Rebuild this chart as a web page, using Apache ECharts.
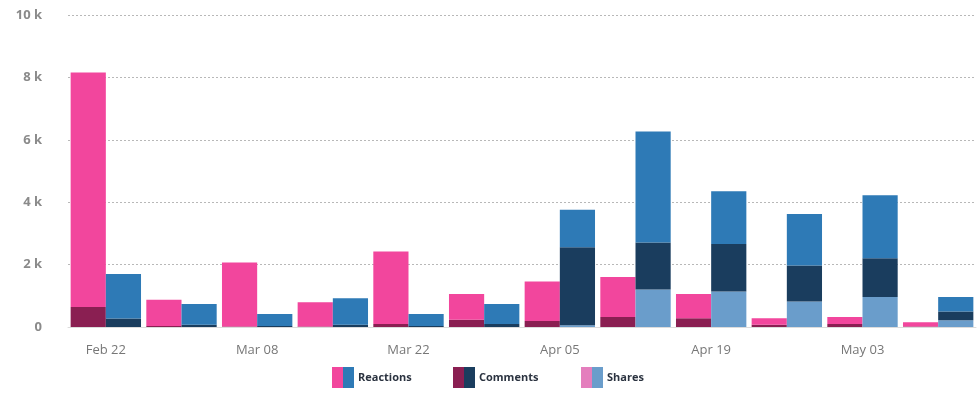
<!DOCTYPE html>
<html>
<head>
<meta charset="utf-8">
<script src="https://cdn.jsdelivr.net/npm/echarts@6/dist/echarts.min.js"></script>
<style>
  html, body { margin: 0; padding: 0; background: #fff; }
  #chart { width: 979px; height: 412px; }
</style>
</head>
<body>
<div id="chart"></div>
<script>
// weeks (label shown every other week)
const weeks = ["Feb 22", "Mar 01", "Mar 08", "Mar 15", "Mar 22", "Mar 29",
  "Apr 05", "Apr 12", "Apr 19", "Apr 26", "May 03", "May 10"];

// pink page
const pinkReactions = [7520, 845, 2050, 770, 2320, 830, 1270, 1280, 780, 210, 220, 130];
const pinkComments  = [640, 30, 20, 20, 100, 230, 190, 320, 280, 70, 100, 20];
const pinkShares    = [0, 0, 0, 0, 0, 0, 0, 0, 0, 0, 0, 0];

// blue page
const blueReactions = [1430, 670, 390, 850, 390, 640, 1200, 3560, 1690, 1650, 2020, 460];
const blueComments  = [270, 70, 30, 70, 30, 100, 2500, 1510, 1520, 1150, 1240, 280];
const blueShares    = [0, 0, 0, 0, 0, 0, 60, 1200, 1140, 820, 960, 220];

const metricNames = ["Reactions", "Comments", "Shares"];
const pinkColors = ["#f2469d", "#8a1f52", "#e47ebd"];
const blueColors = ["#2e7ab6", "#1a3d5e", "#6a9dcb"];
const legendX = [327, 448, 576];

var chartDom = document.getElementById("chart");
const chart = echarts.init(chartDom);

const mkSeries = (name, data, color, stack) => ({
  name: name,
  type: "bar",
  stack: stack,
  data: data,
  barGap: "0%",
  barCategoryGap: "7%",
  itemStyle: { color: color },
  emphasis: { disabled: true },
});

// stacks drawn bottom-up: shares, comments, reactions
const series = [
  mkSeries("Shares", pinkShares, pinkColors[2], "pink"),
  mkSeries("Comments", pinkComments, pinkColors[1], "pink"),
  mkSeries("Reactions", pinkReactions, pinkColors[0], "pink"),
  mkSeries("Shares", blueShares, blueColors[2], "blue"),
  mkSeries("Comments", blueComments, blueColors[1], "blue"),
  mkSeries("Reactions", blueReactions, blueColors[0], "blue"),
];

// two-tone legend swatch: a pink half-legend (no text) next to a blue one
const legends = [];
metricNames.forEach((n, i) => {
  legends.push({
    left: legendX[i], top: 362,
    icon: "rect", itemWidth: 11, itemHeight: 21,
    selectedMode: false,
    formatter: () => "",
    data: [{ name: n, itemStyle: { color: pinkColors[i] } }],
  });
  legends.push({
    left: legendX[i] + 11, top: 362,
    icon: "rect", itemWidth: 11, itemHeight: 21,
    selectedMode: false,
    textStyle: { fontFamily: "Open Sans", fontWeight: "bold", fontSize: 11, color: "#2b3340", padding: [0, 0, 0, -1] },
    data: [{ name: n, itemStyle: { color: blueColors[i] } }],
  });
});

const option = {
  animation: false,
  legend: legends,
  grid: { left: 68, right: 3, top: 15, bottom: 85 },
  xAxis: {
    type: "category",
    data: weeks,
    axisLine: { lineStyle: { color: "#dcdcdc" } },
    axisTick: { alignWithLabel: true, interval: 1, length: 8, lineStyle: { color: "#dcdcdc" } },
    axisLabel: { interval: 1, color: "#777", fontFamily: "Open Sans", fontSize: 13, margin: 17 },
  },
  yAxis: {
    type: "value",
    min: 0, max: 10000, interval: 2000,
    axisLine: { show: false },
    axisTick: { show: false },
    splitLine: { lineStyle: { color: "#b8b8b8", type: [2, 2] } },
    axisLabel: {
      color: "#8a8a8a", fontFamily: "Open Sans", fontWeight: "bold", fontSize: 13, margin: 26,
      formatter: (v) => (v === 0 ? "0" : v / 1000 + " k"),
    },
  },
  series: series,
};

chart.setOption(option);
</script>
</body>
</html>
